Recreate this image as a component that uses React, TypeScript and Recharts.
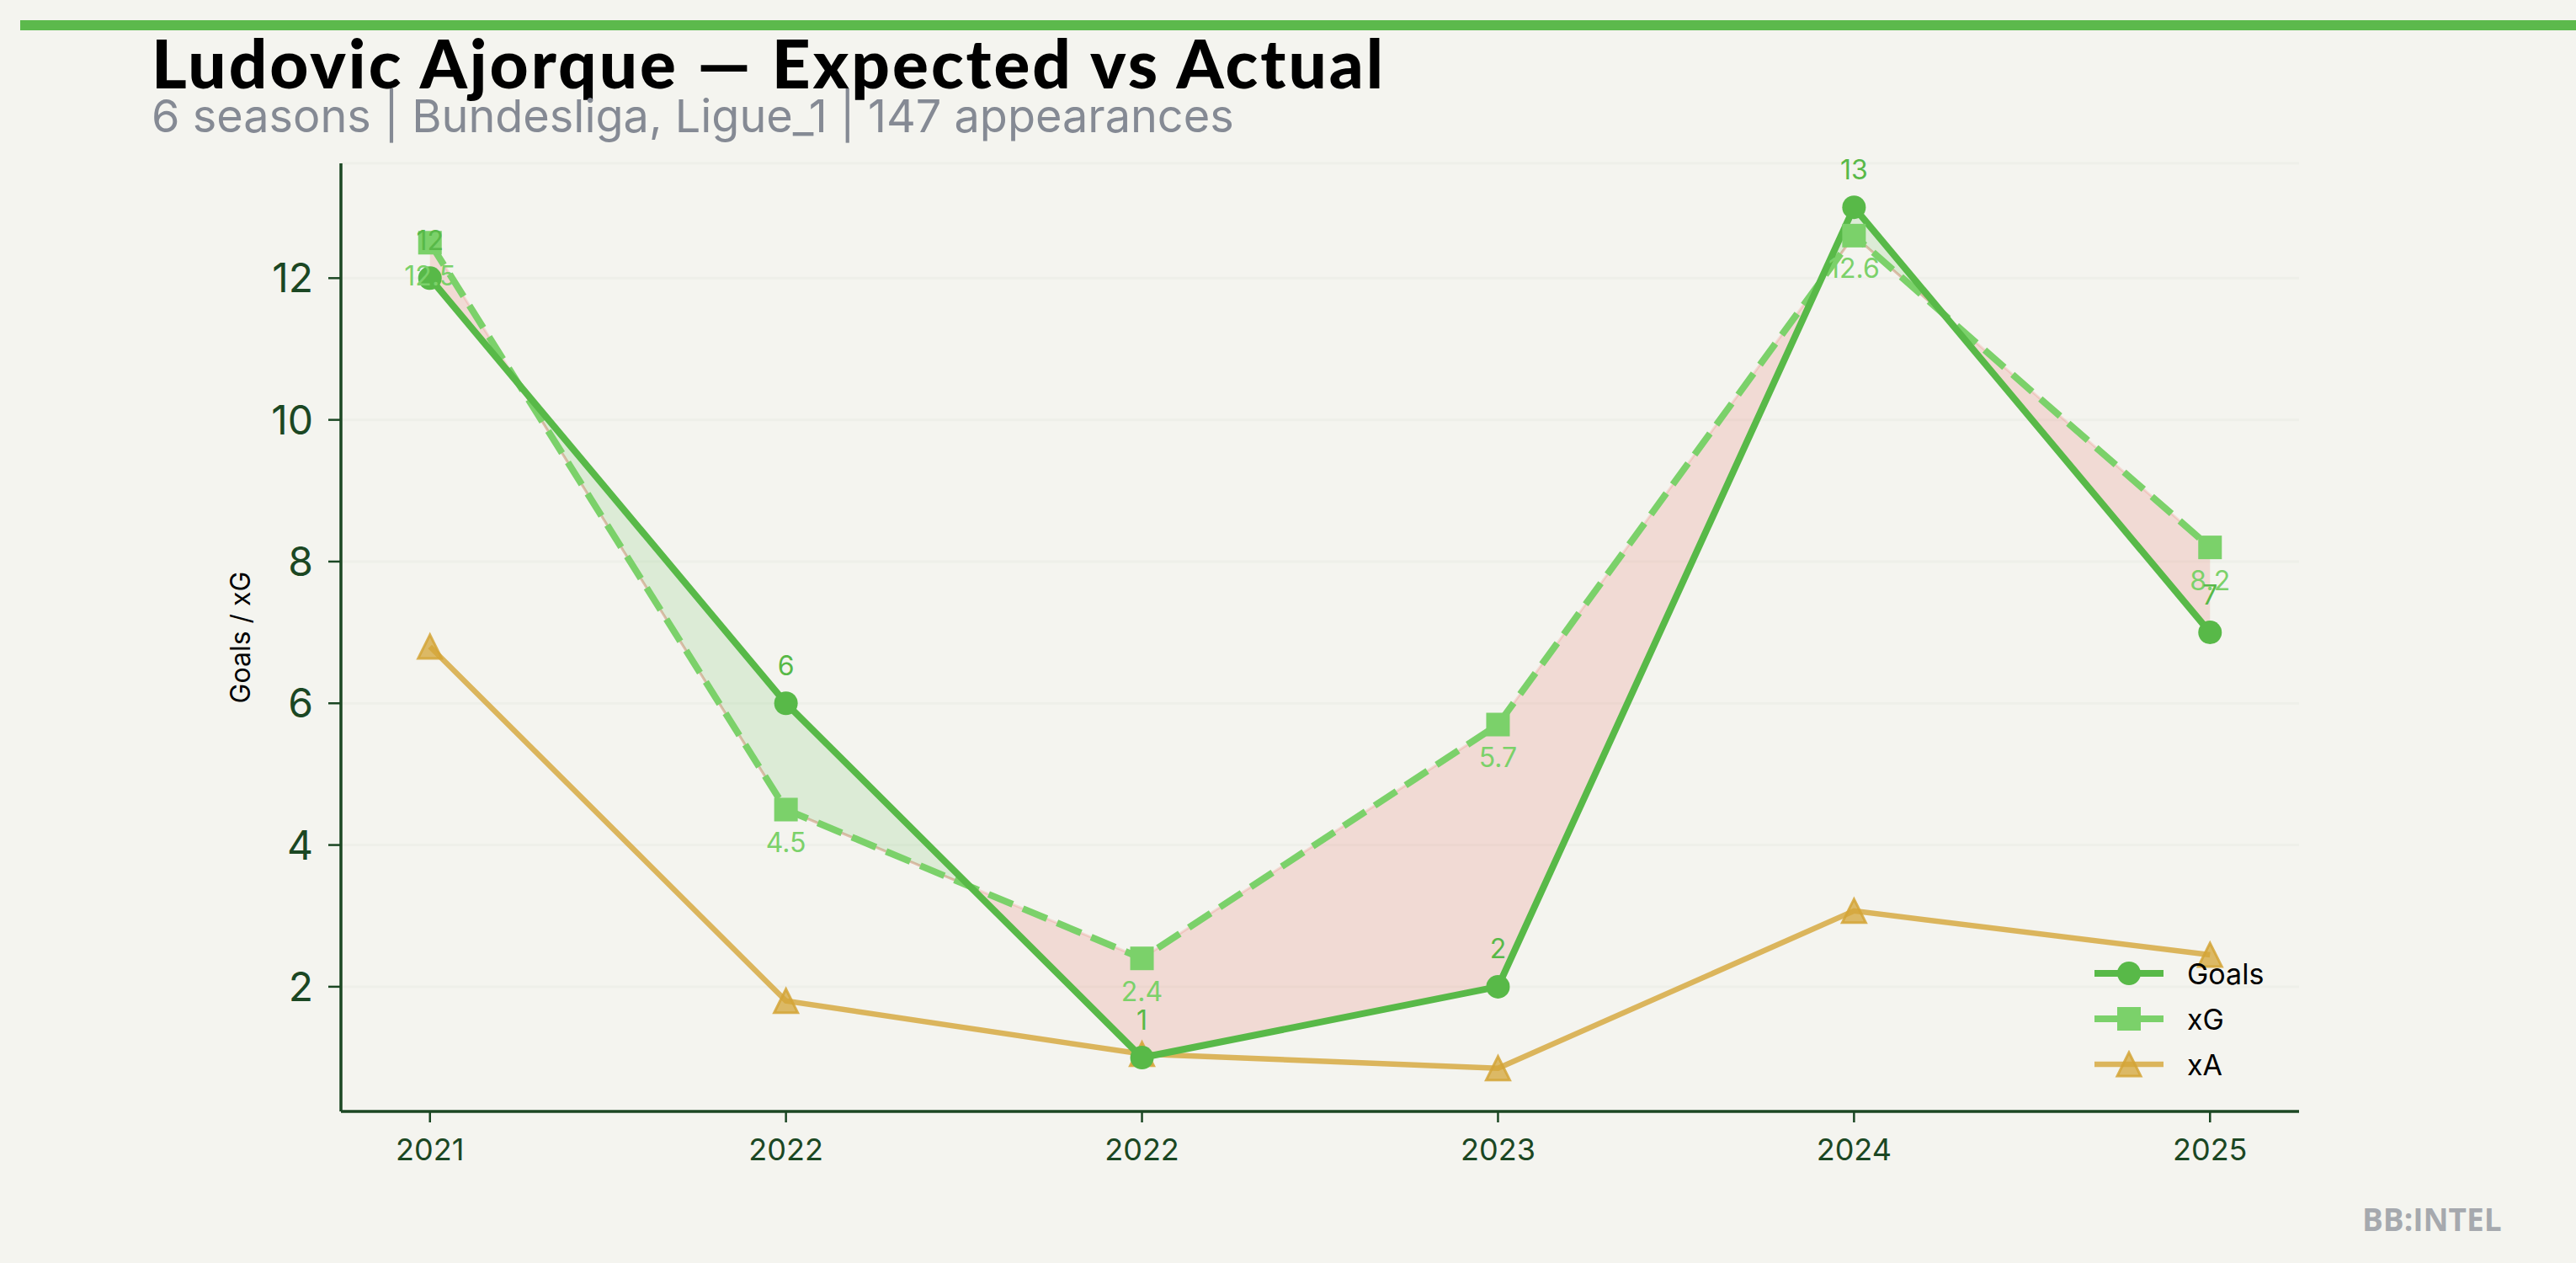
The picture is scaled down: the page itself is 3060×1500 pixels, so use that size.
import React from "react";
import { ComposedChart, Line, Area, XAxis, YAxis, CartesianGrid, Legend, Label } from "recharts";

// season labels as printed on the x axis (2022 appears twice in the source)
const seasons = ["2021", "2022", "2022", "2023", "2024", "2025"];
const goals = [12, 6, 1, 2, 13, 7];
const xg = [12.5, 4.5, 2.4, 5.7, 12.6, 8.2];
const xa = [6.8, 1.8, 1.05, 0.85, 3.07, 2.45];
const yTicks = [2, 4, 6, 8, 10, 12];
const seriesNames = ["Goals", "xG", "xA"];

const BG = "#f4f4ef";
const GOALS = "#58b948";
const XG = "#7bd16a";
const XA = "#d4a537";
const RED = "#e74c3c";
const AXIS = "#1b4723";

// rows for the chart: one per season, plus the points where goals and xG cross
// so the over/under fill switches colour exactly at the crossing
type Row = {
  x: number;
  goals?: number;
  xg?: number;
  xa?: number;
  green: [number, number];
  red: [number, number];
};

const rows: Row[] = [];
goals.forEach((g, i) => {
  const e = xg[i];
  rows.push({
    x: i,
    goals: g,
    xg: e,
    xa: xa[i],
    green: [Math.min(g, e), g],
    red: [Math.min(g, e), e],
  });
  if (i < goals.length - 1) {
    const d0 = g - e;
    const d1 = goals[i + 1] - xg[i + 1];
    if (d0 * d1 < 0) {
      const t = d0 / (d0 - d1);
      const v = g + t * (goals[i + 1] - g);
      rows.push({ x: i + t, green: [v, v], red: [v, v] });
    }
  }
});

const isEmpty = (p: any) => p.value == null || p.cy == null || Number.isNaN(p.cy);

const GoalsDot = (p: any) =>
  isEmpty(p) ? <g key={`gd${p.index}`} /> : <circle key={`gd${p.index}`} cx={p.cx} cy={p.cy} r={14} fill={GOALS} />;

const XgDot = (p: any) =>
  isEmpty(p) ? (
    <g key={`xd${p.index}`} />
  ) : (
    <rect key={`xd${p.index}`} x={p.cx - 14} y={p.cy - 14} width={28} height={28} fill={XG} />
  );

const tri = (cx: number, cy: number, s: number) =>
  `${cx},${cy - s} ${cx - s},${cy + s} ${cx + s},${cy + s}`;

const XaDot = (p: any) =>
  isEmpty(p) ? (
    <g key={`ad${p.index}`} />
  ) : (
    <polygon
      key={`ad${p.index}`}
      points={tri(p.cx, p.cy, 14)}
      fill={XA}
      fillOpacity={0.75}
      stroke={XA}
      strokeOpacity={0.85}
      strokeWidth={3}
      strokeLinejoin="miter"
    />
  );

const makeLabel = (color: string, dy: number) => (p: any) => {
  if (p.value == null || p.y == null || Number.isNaN(p.y)) return <g key={`l${p.index}`} />;
  return (
    <text
      key={`l${p.index}`}
      x={p.x}
      y={p.y + dy}
      fill={color}
      fontSize={32}
      fontFamily="Inter"
      textAnchor="middle"
      dominantBaseline="central"
    >
      {p.value}
    </text>
  );
};

const LegendBox = () => {
  const colors = [GOALS, XG, XA];
  return (
    <div style={{ fontFamily: "Inter", fontSize: 34, color: "#000" }}>
      {seriesNames.map((name, i) => (
        <div key={name} style={{ display: "flex", alignItems: "center", height: 54 }}>
          <svg width={90} height={40} style={{ marginRight: 24 }}>
            <line
              x1={4}
              x2={86}
              y1={20}
              y2={20}
              stroke={colors[i]}
              strokeWidth={i === 2 ? 6.5 : 8}
              strokeOpacity={i === 2 ? 0.8 : 1}
            />
            {i === 0 && <circle cx={45} cy={20} r={14} fill={GOALS} />}
            {i === 1 && <rect x={31} y={6} width={28} height={28} fill={XG} />}
            {i === 2 && (
              <polygon
                points={tri(45, 20, 14)}
                fill={XA}
                fillOpacity={0.75}
                stroke={XA}
                strokeOpacity={0.85}
                strokeWidth={3}
              />
            )}
          </svg>
          <span>{name}</span>
        </div>
      ))}
    </div>
  );
};

export default function App() {
  return (
    <div
      style={{
        position: "absolute",
        left: 0,
        top: 0,
        width: 3060,
        height: 1500,
        background: BG,
        overflow: "hidden",
      }}
    >
      <div style={{ position: "absolute", left: 24, top: 24, width: 3036, height: 12, background: "#5cb94c" }} />
      <div
        style={{
          position: "absolute",
          left: 180,
          top: 34,
          fontFamily: "Lato",
          fontWeight: 900,
          fontSize: 80,
          lineHeight: 1,
          letterSpacing: 3,
          color: "#000",
          whiteSpace: "nowrap",
        }}
      >
        Ludovic Ajorque — Expected vs Actual
      </div>
      <div
        style={{
          position: "absolute",
          left: 180,
          top: 111,
          fontFamily: "Inter",
          fontSize: 54,
          lineHeight: 1,
          color: "#858a94",
          whiteSpace: "nowrap",
        }}
      >
        6 seasons | Bundesliga, Ligue_1 | 147 appearances
      </div>

      <div style={{ position: "absolute", left: 0, top: 0 }}>
        <ComposedChart
          width={3060}
          height={1500}
          data={rows}
          margin={{ top: 194, right: 329, bottom: 100, left: 285 }}
        >
          <CartesianGrid vertical={false} stroke="#eeefe9" strokeWidth={3} />
          <XAxis
            dataKey="x"
            type="number"
            domain={[-0.25, 5.25]}
            ticks={[0, 1, 2, 3, 4, 5]}
            tickFormatter={(v: number) => seasons[v]}
            height={80}
            tickSize={13}
            tickMargin={19}
            axisLine={{ stroke: AXIS, strokeWidth: 3.5 }}
            tickLine={{ stroke: AXIS, strokeWidth: 2.5 }}
            tick={{ fill: AXIS, fontSize: 36, fontFamily: "Inter" }}
            allowDataOverflow
          />
          <YAxis
            type="number"
            domain={[0.24, 13.62]}
            ticks={yTicks}
            width={120}
            tickSize={15}
            tickMargin={18}
            axisLine={{ stroke: AXIS, strokeWidth: 3.5 }}
            tickLine={{ stroke: AXIS, strokeWidth: 2.5 }}
            tick={{ fill: AXIS, fontSize: 48, fontFamily: "Inter" }}
            allowDataOverflow
          >
            <Label
              content={(p: any) => {
                const vb = p.viewBox || { x: 285, y: 194, height: 1126 };
                const cx = vb.x;
                const cy = vb.y + vb.height / 2;
                return (
                  <text
                    x={cx}
                    y={cy}
                    transform={`rotate(-90 ${cx} ${cy})`}
                    textAnchor="middle"
                    dominantBaseline="central"
                    fontSize={32}
                    fontFamily="Inter"
                    fill="#000"
                  >
                    Goals / xG
                  </text>
                );
              }}
            />
          </YAxis>

          <Area
            type="linear"
            dataKey="green"
            fill={GOALS}
            fillOpacity={0.15}
            stroke={GOALS}
            strokeOpacity={0.15}
            strokeWidth={3}
            isAnimationActive={false}
            dot={false}
            activeDot={false}
            legendType="none"
          />
          <Area
            type="linear"
            dataKey="red"
            fill={RED}
            fillOpacity={0.15}
            stroke={RED}
            strokeOpacity={0.15}
            strokeWidth={3}
            isAnimationActive={false}
            dot={false}
            activeDot={false}
            legendType="none"
          />

          <Line
            type="linear"
            dataKey="xa"
            stroke={XA}
            strokeOpacity={0.8}
            strokeWidth={6.5}
            connectNulls
            dot={XaDot}
            activeDot={false}
            isAnimationActive={false}
          />
          <Line
            type="linear"
            dataKey="xg"
            stroke={XG}
            strokeWidth={8}
            strokeDasharray="31 13"
            connectNulls
            dot={XgDot}
            activeDot={false}
            isAnimationActive={false}
          />
          <Line
            type="linear"
            dataKey="goals"
            stroke={GOALS}
            strokeWidth={8}
            connectNulls
            dot={GoalsDot}
            activeDot={false}
            isAnimationActive={false}
          />
          {/* label-only series so the value text sits above every marker */}
          <Line
            type="linear"
            dataKey="xg"
            stroke="none"
            connectNulls
            dot={false}
            activeDot={false}
            legendType="none"
            label={makeLabel(XG, 39)}
            isAnimationActive={false}
          />
          <Line
            type="linear"
            dataKey="goals"
            stroke="none"
            connectNulls
            dot={false}
            activeDot={false}
            legendType="none"
            label={makeLabel(GOALS, -45)}
            isAnimationActive={false}
          />

          <Legend
            layout="vertical"
            align="center"
            verticalAlign="middle"
            content={() => <LegendBox />}
            wrapperStyle={{ left: 2484, top: 1129, width: 320, height: 170 }}
          />
        </ComposedChart>
      </div>

      <div
        style={{
          position: "absolute",
          left: 2806,
          top: 1429,
          fontFamily: "Open Sans",
          fontWeight: 700,
          fontSize: 37,
          lineHeight: 1,
          color: "#a6a9ae",
          whiteSpace: "nowrap",
        }}
      >
        BB:INTEL
      </div>
    </div>
  );
}
